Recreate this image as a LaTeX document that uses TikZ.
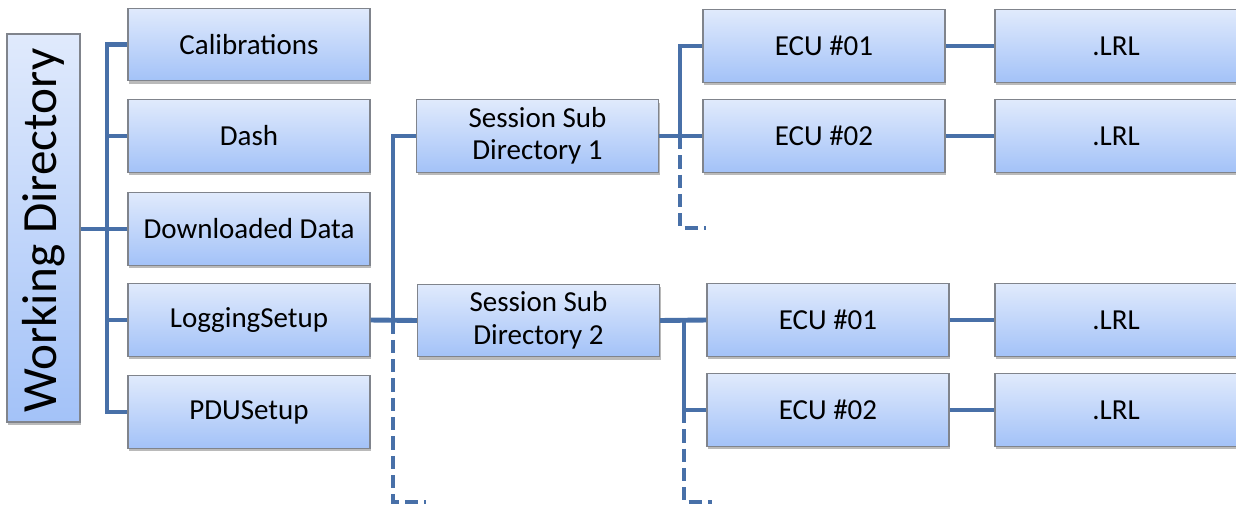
\documentclass[tikz,border=0pt]{standalone}
\usepackage{fontspec}
\setmainfont{Carlito}
\usepackage{graphicx}
\usetikzlibrary{shadows}
\definecolor{boxtop}{RGB}{224,234,252}
\definecolor{boxbot}{RGB}{163,194,248}
\definecolor{boxline}{RGB}{128,132,140}
\definecolor{wireblue}{RGB}{72,112,168}
\tikzset{
  dirbox/.style={draw=boxline, line width=0.8pt, top color=boxtop, bottom color=boxbot,
    minimum width=4.84cm, minimum height=1.45cm, inner sep=0pt, align=center,
    font=\fontsize{16.5}{18.5}\selectfont,
    drop shadow={shadow xshift=0.6pt, shadow yshift=-1.6pt, opacity=0.45, fill=black!60}},
  link/.style={draw=wireblue, line width=2.8pt},
  tail/.style={link, dash pattern=on 7.5pt off 3.5pt},
}
\begin{document}
\begin{tikzpicture}[x=0.02cm, y=-0.02cm]
\clip (0,0) rectangle (1236,504);
% working directory and its folders
\node (wd) at (43.5,228) [dirbox, minimum width=1.46cm, minimum height=7.76cm, font=\fontsize{28}{30}\selectfont] {\rotatebox{90}{Working Directory\hspace{0.1cm}}};
\node (calib) at (249,44.5) [dirbox] {Calibrations};
\node (dash) at (249,136) [dirbox] {Dash};
\node (dload) at (249,229) [dirbox] {Downloaded Data};
\node (logset) at (249,320) [dirbox] {LoggingSetup};
\node (pdu) at (249,412) [dirbox] {PDUSetup};
% session sub directories
\node (sess1) at (537.5,136) [dirbox] {Session Sub\\Directory 1};
\node (sess2) at (538.5,320.5) [dirbox] {Session Sub\\Directory 2};
% ECU folders and log files
\node (ecuA1) at (824,46) [dirbox] {ECU \#01};
\node (ecuA2) at (824,136) [dirbox] {ECU \#02};
\node (ecuB1) at (828,320) [dirbox] {ECU \#01};
\node (ecuB2) at (828,410) [dirbox] {ECU \#02};
\node (lrlA1) at (1116,46) [dirbox] {.LRL};
\node (lrlA2) at (1116,136) [dirbox] {.LRL};
\node (lrlB1) at (1116,320) [dirbox] {.LRL};
\node (lrlB2) at (1116,410) [dirbox] {.LRL};
% trunk of working directory
\coordinate (trunkL) at (107,0);
\draw [link] (calib.west) -| (trunkL |- pdu.west) -- (pdu.west);
\foreach \n in {dash,dload,logset}
  \draw [link] (\n.west) -- (\n.west -| trunkL);
\draw [link] (wd.east |- dload.west) -- (dload.west -| trunkL);
% trunk of sessions
\coordinate (trunkM) at (393,0);
\coordinate (tailM) at (393,502);
\coordinate (tailMend) at (426,502);
\draw [link] (logset.east) -- (sess2.west);
\draw [link] (sess1.west) -| (trunkM |- sess2.west);
\draw [tail] (trunkM |- sess2.west) -- (tailM) -- (tailMend);
% ECUs of session 1
\coordinate (trunkA) at (680,0);
\coordinate (tailA) at (680,228);
\coordinate (tailAend) at (706,228);
\draw [link] (sess1.east) -- (ecuA2.west);
\draw [link] (ecuA1.west) -| (trunkA |- ecuA2.west);
\draw [tail] (trunkA |- ecuA2.west) -- (tailA) -- (tailAend);
% ECUs of session 2
\coordinate (trunkB) at (684,0);
\coordinate (tailB) at (684,502);
\coordinate (tailBend) at (712,502);
\draw [link] (sess2.east) -- (ecuB1.west);
\draw [link] (trunkB |- ecuB1.west) -- (trunkB |- ecuB2.west) -- (ecuB2.west);
\draw [tail] (trunkB |- ecuB2.west) -- (tailB) -- (tailBend);
% log files
\draw [link] (ecuA1.east) -- (lrlA1.west);
\draw [link] (ecuA2.east) -- (lrlA2.west);
\draw [link] (ecuB1.east) -- (lrlB1.west);
\draw [link] (ecuB2.east) -- (lrlB2.west);
\end{tikzpicture}
\end{document}
